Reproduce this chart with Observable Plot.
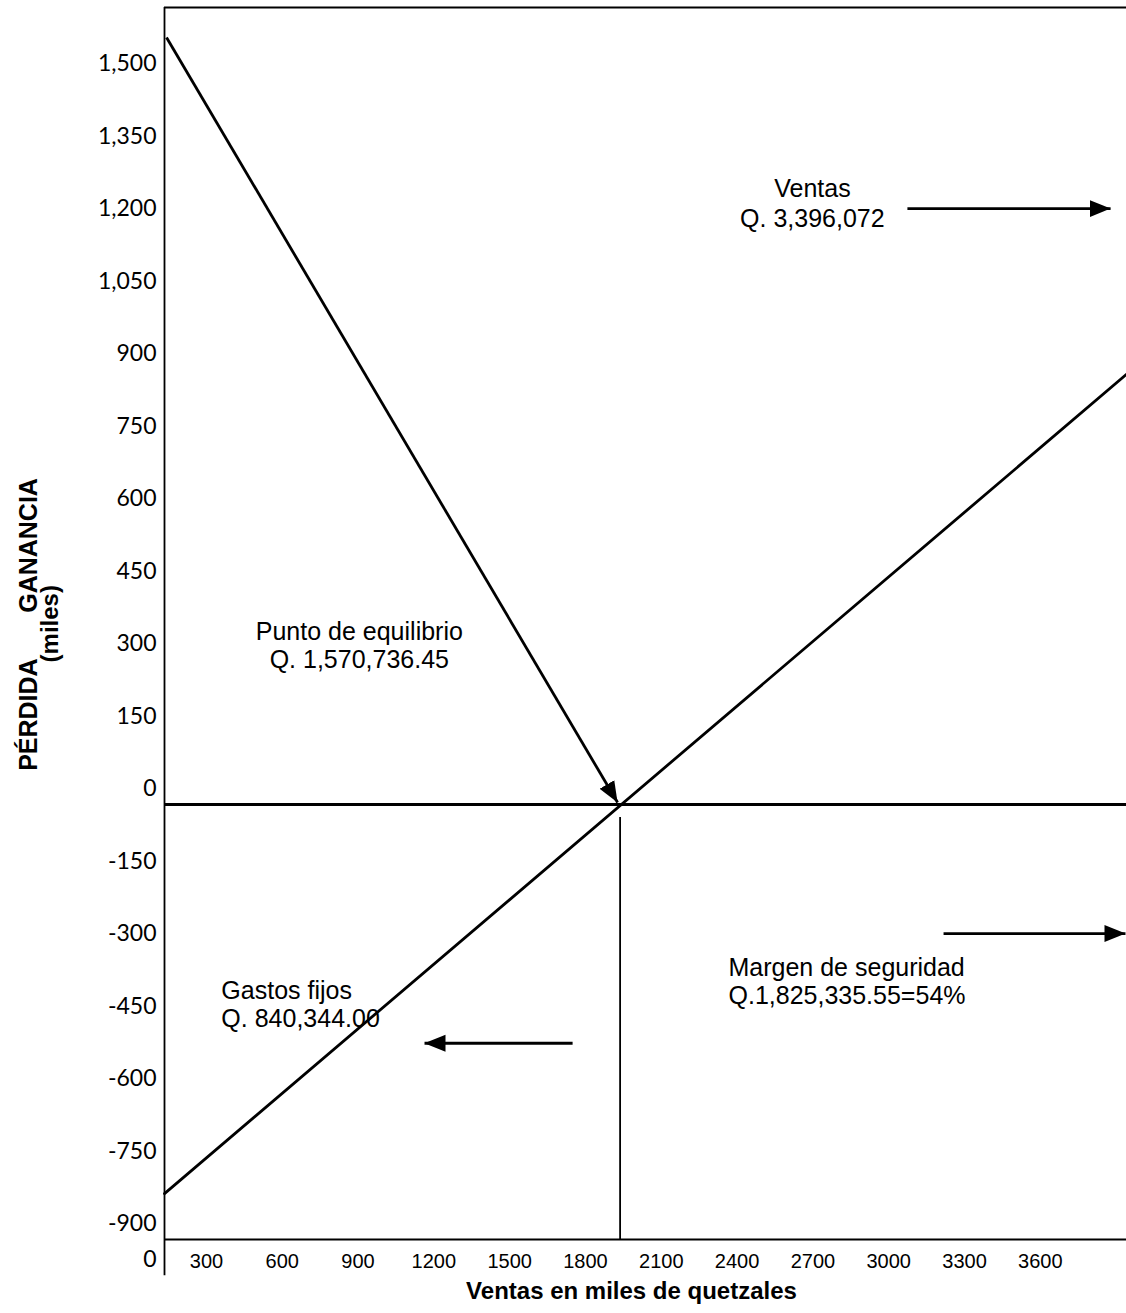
<!DOCTYPE html>
<html>
<head>
<meta charset="utf-8">
<script src="https://cdn.jsdelivr.net/npm/d3@7"></script>
<script src="https://cdn.jsdelivr.net/npm/@observablehq/plot@0.6"></script>
<style>
  html, body { margin: 0; padding: 0; background: #fff; }
</style>
</head>
<body>
<div id="chart"></div>
<script>
// ---- data ----
const xTicks = [300, 600, 900, 1200, 1500, 1800, 2100, 2400, 2700, 3000, 3300, 3600];
const yTicks = [-900, -750, -600, -450, -300, -150, 0, 150, 300, 450, 600, 750, 900, 1050, 1200, 1350, 1500];
const xDomain = [134, 3941];
const yDomain = [-900, 1649];
const leftAxisBottom = -975;
const breakEvenX = 1937;
const breakEvenTop = -27;
const costLine = [{x: 134, y: -805}, {x: 3941, y: 890}];
const arrows = [
  {x1: 142, y1: 1587, x2: 1927, y2: 4},
  {x1: 3074, y1: 1233, x2: 3878, y2: 1233},
  {x1: 3217, y1: -267, x2: 3937, y2: -267},
  {x1: 1749, y1: -494, x2: 1163, y2: -494}
];
const centeredNotes = [
  {text: "Ventas", x: 2698, y: 1274},
  {text: "Q. 3,396,072", x: 2698, y: 1212},
  {text: "Punto de equilibrio", x: 905, y: 356},
  {text: "Q. 1,570,736.45", x: 905, y: 298}
];
const leftNotes = [
  {text: "Gastos fijos", x: 359, y: -385},
  {text: "Q. 840,344.00", x: 359, y: -443},
  {text: "Margen de seguridad", x: 2366, y: -339},
  {text: "Q.1,825,335.55=54%", x: 2366, y: -397}
];
const yTitleMain = [{text: "PÉRDIDA", y: 186}, {text: "GANANCIA", y: 536}];
const yTitleSub = [{text: "(miles)", y: 374}];
const xTitle = "Ventas en miles de quetzales";
const originLabel = "0";

const ink = "#000";
const sans = "'Liberation Sans', Arial, sans-serif";
const tickFont = "Lato, 'Open Sans', sans-serif";

const chart = Plot.plot({
  width: 1126,
  height: 1313,
  marginLeft: 164,
  marginRight: 0,
  marginTop: 7,
  marginBottom: 74,
  style: {fontFamily: sans, background: "#fff", color: ink, overflow: "visible"},
  x: {domain: xDomain},
  y: {domain: yDomain},
  marks: [
    Plot.ruleY([yDomain[1]], {stroke: ink, strokeWidth: 2.2}),
    Plot.ruleY([yDomain[0]], {stroke: ink, strokeWidth: 2.2}),
    Plot.ruleX([xDomain[0]], {y1: yDomain[1], y2: leftAxisBottom, stroke: ink, strokeWidth: 1.8}),
    Plot.ruleY([0], {stroke: ink, strokeWidth: 3}),
    Plot.ruleX([breakEvenX], {y1: breakEvenTop, y2: yDomain[0], stroke: ink, strokeWidth: 1.8}),
    Plot.line(costLine, {x: "x", y: "y", stroke: ink, strokeWidth: 2.8}),
    Plot.link(arrows, {x1: "x1", y1: "y1", x2: "x2", y2: "y2", stroke: ink, strokeWidth: 2.8, markerEnd: "arrow"}),
    Plot.axisX(xTicks, {tickSize: 0, tickPadding: 14, fontSize: 20, fontFamily: sans, tickFormat: d => String(d), label: null}),
    Plot.axisY(yTicks, {tickSize: 0, tickPadding: 8, dy: -15.5, fontSize: 23, fontFamily: tickFont, tickFormat: d => d.toLocaleString("en-US"), label: null}),
    Plot.text([originLabel], {frameAnchor: "bottom-left", dx: -8, dy: 27, textAnchor: "end", fontSize: 23, fontFamily: tickFont, fill: ink}),
    Plot.text(centeredNotes, {x: "x", y: "y", text: "text", textAnchor: "middle", fontSize: 25, fill: ink}),
    Plot.text(leftNotes, {x: "x", y: "y", text: "text", textAnchor: "start", fontSize: 25, fill: ink}),
    Plot.text(yTitleMain, {frameAnchor: "left", y: "y", text: "text", rotate: -90, textAnchor: "middle", dx: -136, fontSize: 25, fontWeight: "bold", fill: ink}),
    Plot.text(yTitleSub, {frameAnchor: "left", y: "y", text: "text", rotate: -90, textAnchor: "middle", dx: -114, fontSize: 24, fontWeight: "bold", fill: ink}),
    Plot.text([xTitle], {frameAnchor: "bottom", dx: -14, dy: 59, fontSize: 24, fontWeight: "bold", fill: ink})
  ]
});

// filled triangular arrowheads
d3.select(chart).selectAll("marker").each(function() {
  const m = d3.select(this);
  m.attr("viewBox", "-21 -9 21 18")
   .attr("markerUnits", "userSpaceOnUse")
   .attr("markerWidth", 21)
   .attr("markerHeight", 18)
   .attr("fill", ink)
   .attr("stroke", "none");
  m.selectAll("*").remove();
  m.append("path").attr("d", "M-21,-8.5L0,0L-21,8.5Z");
});

document.getElementById("chart").appendChild(chart);
</script>
</body>
</html>
